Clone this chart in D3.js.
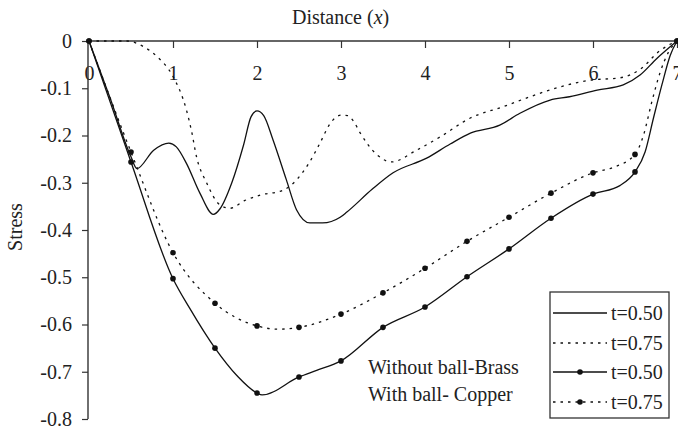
<!DOCTYPE html>
<html>
<head>
<meta charset="utf-8">
<script src="https://cdn.jsdelivr.net/npm/d3@7"></script>
<style>
  html, body { margin: 0; padding: 0; background: #fff; }
  svg { display: block; }
  text { font-family: "Liberation Serif", "Times New Roman", serif; fill: #222; }
</style>
</head>
<body>
<div id="chart"></div>
<script>
// Stress along the distance x for two times, with and without the ball.
const xTicks = [0, 1, 2, 3, 4, 5, 6, 7];
const yTicks = [0, -0.1, -0.2, -0.3, -0.4, -0.5, -0.6, -0.7, -0.8];
const yTickLabels = ["0", "-0.1", "-0.2", "-0.3", "-0.4", "-0.5", "-0.6", "-0.7", "-0.8"];

// Without ball (brass), t = 0.50
const brassT050 = [
  [0, 0], [0.25, -0.12], [0.5, -0.245], [0.57, -0.27], [0.77, -0.231], [0.95, -0.216],
  [1.04, -0.224], [1.16, -0.259], [1.32, -0.322], [1.48, -0.367], [1.56, -0.355],
  [1.7, -0.3], [1.84, -0.22], [1.93, -0.16], [2.0, -0.148], [2.08, -0.158], [2.19, -0.209],
  [2.35, -0.294], [2.47, -0.357], [2.63, -0.385], [2.78, -0.385], [2.99, -0.373],
  [3.07, -0.362], [3.37, -0.314], [3.62, -0.279], [4.02, -0.248], [4.3, -0.218],
  [4.54, -0.195], [4.89, -0.178], [5.13, -0.153], [5.49, -0.125], [5.72, -0.118],
  [6.05, -0.104], [6.36, -0.093], [6.56, -0.072], [6.76, -0.037], [7, 0]
];

// Without ball (brass), t = 0.75
const brassT075 = [
  [0, 0], [0.45, 0], [0.65, -0.012], [0.81, -0.033], [1.0, -0.075], [1.16, -0.146],
  [1.22, -0.19], [1.28, -0.245], [1.4, -0.3], [1.56, -0.347], [1.68, -0.354],
  [1.85, -0.338], [2.04, -0.326], [2.31, -0.316], [2.47, -0.294], [2.62, -0.258],
  [2.75, -0.216], [2.87, -0.175], [3.0, -0.157], [3.08, -0.158], [3.15, -0.17],
  [3.23, -0.195], [3.43, -0.241], [3.6, -0.256], [3.9, -0.231], [4.18, -0.203],
  [4.54, -0.163], [4.93, -0.139], [5.25, -0.118], [5.61, -0.097], [5.96, -0.083],
  [6.32, -0.078], [6.56, -0.06], [6.8, -0.02], [7, 0]
];

// With ball (copper), t = 0.50 — marked every 0.5
const copperT050 = [
  [0, 0], [0.5, -0.256], [1, -0.503], [1.2, -0.566], [1.5, -0.65], [1.76, -0.708],
  [2, -0.745], [2.06, -0.749], [2.5, -0.711], [2.71, -0.697], [3, -0.677], [3.5, -0.606],
  [4, -0.563], [4.5, -0.499], [5, -0.44], [5.5, -0.375], [6, -0.324], [6.32, -0.306],
  [6.5, -0.277], [6.62, -0.235], [6.72, -0.163], [6.82, -0.093], [6.92, -0.03], [7, 0]
];

// With ball (copper), t = 0.75 — marked every 0.5
const copperT075 = [
  [0, 0], [0.5, -0.235], [1, -0.448], [1.5, -0.555], [2, -0.603], [2.25, -0.61],
  [2.5, -0.606], [3, -0.578], [3.5, -0.533], [4, -0.481], [4.5, -0.424], [5, -0.373],
  [5.5, -0.322], [6, -0.279], [6.25, -0.267], [6.5, -0.24], [6.6, -0.2], [6.7, -0.129],
  [6.8, -0.066], [6.9, -0.023], [7, 0]
];

const legendLabels = ["t=0.50", "t=0.75", "t=0.50", "t=0.75"];
const noteLines = ["Without ball-Brass", "With ball- Copper"];

const W = 678, H = 431;
const svg = d3.select("#chart").append("svg").attr("width", W).attr("height", H);

const x = d3.scaleLinear().domain([0, 7]).range([89, 677]);
const y = d3.scaleLinear().domain([0, -0.8]).range([41, 419]);

const axisColor = "#333";

// Top x axis (zero line) with ticks pointing down and labels beneath
const xAxis = svg.append("g").attr("transform", `translate(0,${y(0)})`)
  .call(d3.axisBottom(x).tickValues(xTicks).tickSize(7).tickPadding(0).tickFormat(d3.format("d")));
xAxis.select(".domain").attr("stroke", axisColor).attr("stroke-width", 1.4).attr("d", `M${x(0) - 1},0H${x(7)}`);
xAxis.selectAll(".tick line").attr("stroke", axisColor).attr("stroke-width", 1.2);
xAxis.selectAll(".tick text").attr("y", 39).attr("dy", 0)
  .style("font-family", "Liberation Serif, serif").style("font-size", "20px").attr("fill", "#222");
xAxis.selectAll(".tick").filter(d => d === 0).select("line").remove();

// Left y axis
const yAxis = svg.append("g").attr("transform", `translate(${x(0) - 1},0)`)
  .call(d3.axisLeft(y).tickValues(yTicks).tickSize(6).tickPadding(10)
    .tickFormat((d, i) => yTickLabels[i]));
yAxis.select(".domain").attr("stroke", axisColor).attr("stroke-width", 1.4).attr("d", `M0,${y(0)}V${y(-0.8)}`);
yAxis.selectAll(".tick line").attr("stroke", axisColor).attr("stroke-width", 1.2);
yAxis.selectAll(".tick text").attr("dy", "0.32em")
  .style("font-family", "Liberation Serif, serif").style("font-size", "20px").attr("fill", "#222");

// Axis titles
const title = svg.append("text").attr("x", 292).attr("y", 24).style("font-size", "20px");
title.append("tspan").text("Distance (");
title.append("tspan").style("font-style", "italic").text("x");
title.append("tspan").text(")");

svg.append("text").attr("transform", "translate(22,227) rotate(-90)")
  .attr("text-anchor", "middle").style("font-size", "20px").text("Stress");

// Series
const line = d3.line().x(d => x(d[0])).y(d => y(d[1])).curve(d3.curveMonotoneX);
const series = [
  { data: brassT050, dash: null, markers: false },
  { data: brassT075, dash: "2.5,5", markers: false },
  { data: copperT050, dash: null, markers: true },
  { data: copperT075, dash: "2.5,5", markers: true }
];

const plot = svg.append("g");
series.forEach(s => {
  plot.append("path").datum(s.data)
    .attr("d", line).attr("fill", "none").attr("stroke", "#111")
    .attr("stroke-width", 1.3).attr("stroke-dasharray", s.dash);
  if (s.markers) {
    plot.selectAll(null).data(s.data.filter(d => Number.isInteger(d[0] * 2)))
      .enter().append("circle")
      .attr("cx", d => x(d[0])).attr("cy", d => y(d[1])).attr("r", 2.8).attr("fill", "#111");
  }
});

// Annotation
noteLines.forEach((t, i) => {
  svg.append("text").attr("x", 368).attr("y", 374 + i * 27).style("font-size", "20px").text(t);
});

// Legend
const lg = svg.append("g");
lg.append("rect").attr("x", 550).attr("y", 292).attr("width", 119).attr("height", 126)
  .attr("fill", "#fff").attr("stroke", "#333").attr("stroke-width", 1.3);
const rowY = [313, 343, 372, 402];
series.forEach((s, i) => {
  lg.append("line").attr("x1", 553).attr("x2", 607).attr("y1", rowY[i]).attr("y2", rowY[i])
    .attr("stroke", "#111").attr("stroke-width", 1.3).attr("stroke-dasharray", s.dash);
  if (s.markers) {
    lg.append("circle").attr("cx", 580).attr("cy", rowY[i]).attr("r", 2.8).attr("fill", "#111");
  }
  lg.append("text").attr("x", 611).attr("y", rowY[i]).attr("dy", "0.33em")
    .style("font-size", "20px").text(legendLabels[i]);
});
</script>
</body>
</html>
